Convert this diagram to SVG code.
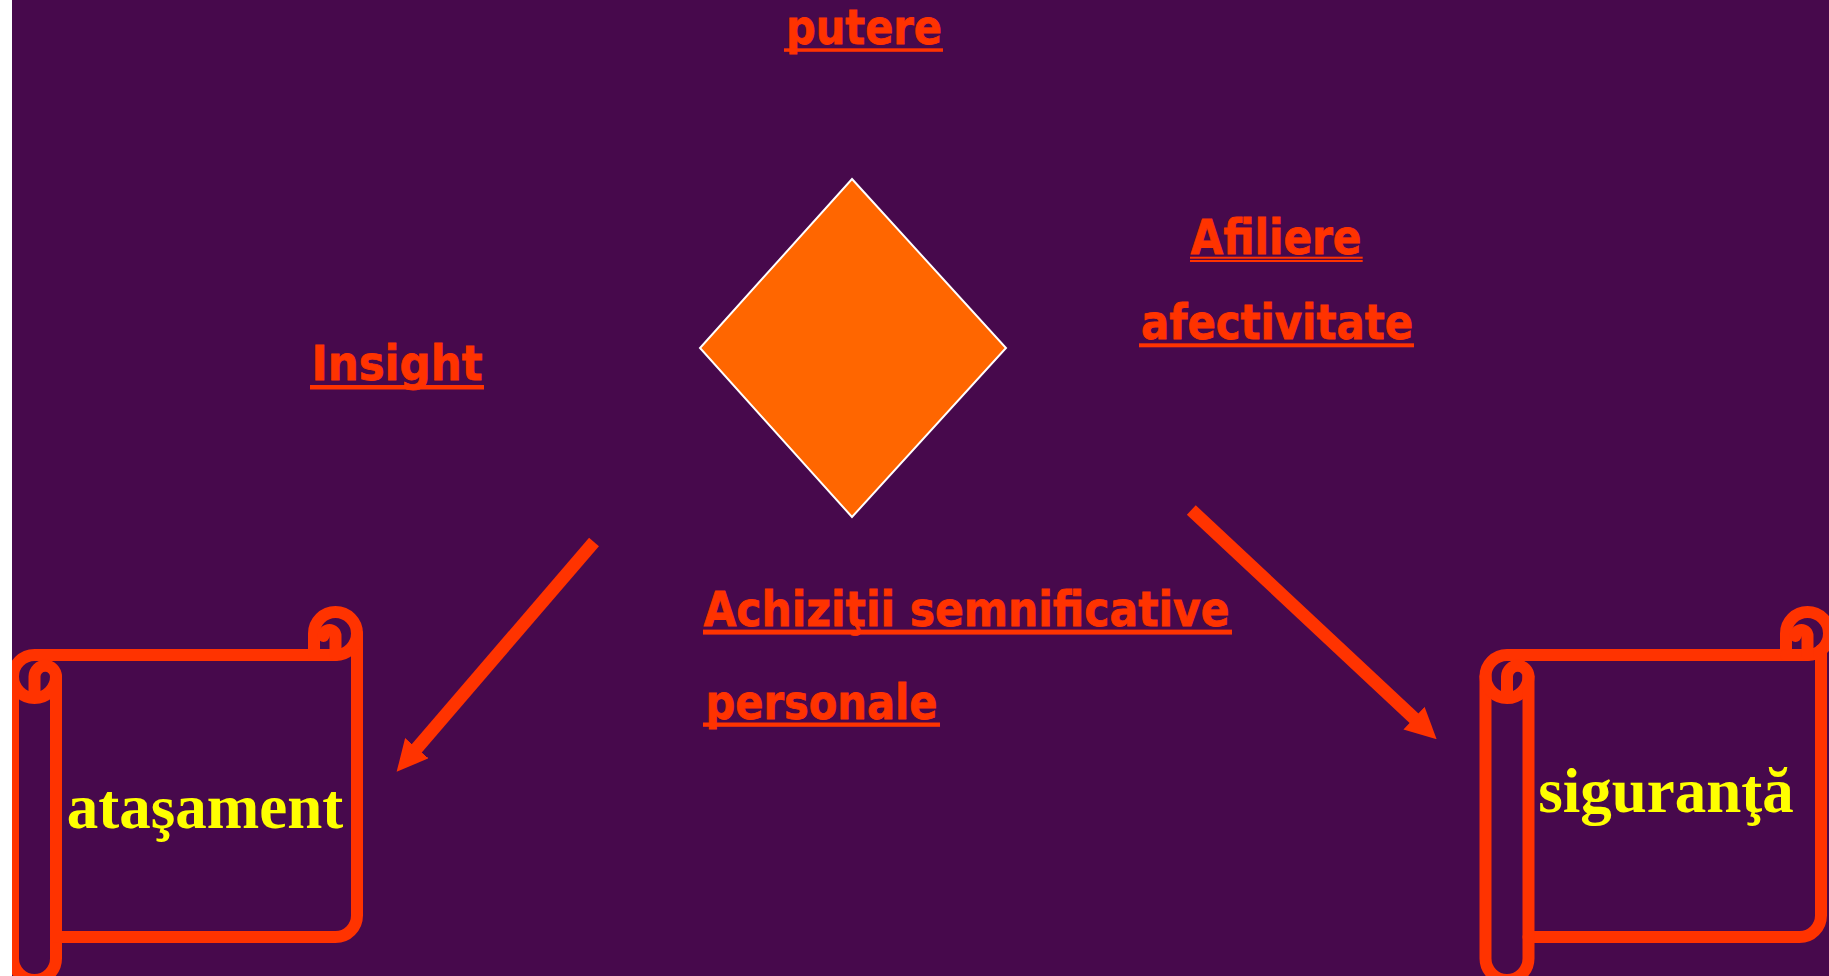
<svg xmlns="http://www.w3.org/2000/svg" width="1829" height="976" viewBox="0 0 1829 976">
<style>
.lbl{font-family:"DejaVu Sans","Verdana",sans-serif;font-weight:bold;font-size:48px;fill:#FF3300;stroke:#FF3300;stroke-width:0.8}
.ul{fill:#FF3300}
.scroll{fill:none;stroke:#FF3300;stroke-width:12;stroke-linejoin:round;stroke-linecap:round}
.yt{font-family:"Liberation Serif","Times New Roman",serif;font-weight:bold;font-size:63px;fill:#FFFF00;text-anchor:middle}
.arrow{stroke:#FF3300;stroke-width:13;fill:none}
</style>
<defs>
<marker id="ah" viewBox="0 0 31 31" refX="3" refY="15.5" markerWidth="31" markerHeight="31" markerUnits="userSpaceOnUse" orient="auto">
<path d="M0,0 L31,15.5 L0,31 Z" fill="#FF3300"/>
</marker>
</defs>
<rect x="0" y="0" width="1829" height="976" fill="#47094C"/>

<g id="node-putere">
<text class="lbl" x="786" y="44" textLength="156" lengthAdjust="spacingAndGlyphs">putere</text>
<rect class="ul" x="784" y="48.3" width="159" height="3.5"/>
</g>

<g id="node-diamond">
<polygon points="852,179 1006,348 852,517 700,348" fill="#FF6600" stroke="#FFFFFF" stroke-width="2"/>
</g>

<g id="node-insight">
<text class="lbl" x="311.5" y="380" textLength="171" lengthAdjust="spacingAndGlyphs">Insight</text>
<rect class="ul" x="310" y="385" width="174" height="4.5"/>
</g>

<g id="node-afiliere">
<text class="lbl" x="1190.5" y="253.5" textLength="171" lengthAdjust="spacingAndGlyphs">Afiliere</text>
<rect class="ul" x="1190" y="256.7" width="172.7" height="2"/>
<rect class="ul" x="1190" y="260" width="172.7" height="2"/>
<text class="lbl" x="1141" y="338.5" textLength="272" lengthAdjust="spacingAndGlyphs">afectivitate</text>
<rect class="ul" x="1139" y="343.3" width="275" height="4"/>
</g>

<g id="node-achizitii">
<text class="lbl" x="703.5" y="626" textLength="526" lengthAdjust="spacingAndGlyphs">Achiziţii semnificative</text>
<rect class="ul" x="703" y="629.6" width="529" height="5"/>
<text class="lbl" x="705.5" y="719" textLength="232" lengthAdjust="spacingAndGlyphs">personale</text>
<rect class="ul" x="703" y="722.5" width="237" height="4.3"/>
</g>

<g id="node-atasament">
<path class="scroll" d="M13 676.5 A21.5 21.5 0 0 1 34.5 655 L314 655 L314 633.5 A21.5 21.5 0 0 1 357 633.5 L357 915.5 A21.5 21.5 0 0 1 335.5 937 L56 937 L56 958.5 A21.5 21.5 0 0 1 13 958.5 Z"/>
<path class="scroll" d="M314 655 L335.5 655 A21.5 21.5 0 0 0 357 633.5"/>
<path class="scroll" d="M335.5 655 L335.5 636 A6 6 0 0 0 323.5 636"/>
<path class="scroll" d="M34.5 698 L34.5 676.5 A10.75 10.75 0 0 1 56 676.5 A21.5 21.5 0 0 1 13 676.5"/>
<path class="scroll" d="M56 676.5 L56 937"/>
<text class="yt" x="205" y="828">ataşament</text>
</g>

<g id="node-siguranta">
<path class="scroll" d="M1821 650 L1821 915.5 A21.5 21.5 0 0 1 1799.5 937 L1528.5 937 L1528.5 958.5 A21.5 21.5 0 0 1 1485.5 958.5 L1485.5 676.5 A21.5 21.5 0 0 1 1507 655 L1786 655 L1786 633.5 A21.5 21.5 0 0 1 1829 633.5"/>
<path class="scroll" d="M1786 655 L1807.5 655 A21.5 21.5 0 0 0 1829 633.5"/>
<path class="scroll" d="M1807.5 655 L1807.5 636 A6 6 0 0 0 1795.5 636"/>
<path class="scroll" d="M1507 698 L1507 676.5 A10.75 10.75 0 0 1 1528.5 676.5 A21.5 21.5 0 0 1 1485.5 676.5"/>
<path class="scroll" d="M1528.5 676.5 L1528.5 937"/>
<text class="yt" x="1666" y="812">siguranţă</text>
</g>

<g id="connectors">
<line class="arrow" x1="594" y1="542" x2="414.9" y2="750.5" marker-end="url(#ah)"/>
<line class="arrow" x1="1191.3" y1="510" x2="1416.2" y2="720.2" marker-end="url(#ah)"/>
</g>

<rect x="0" y="0" width="12" height="976" fill="#FFFFFF"/>
</svg>
